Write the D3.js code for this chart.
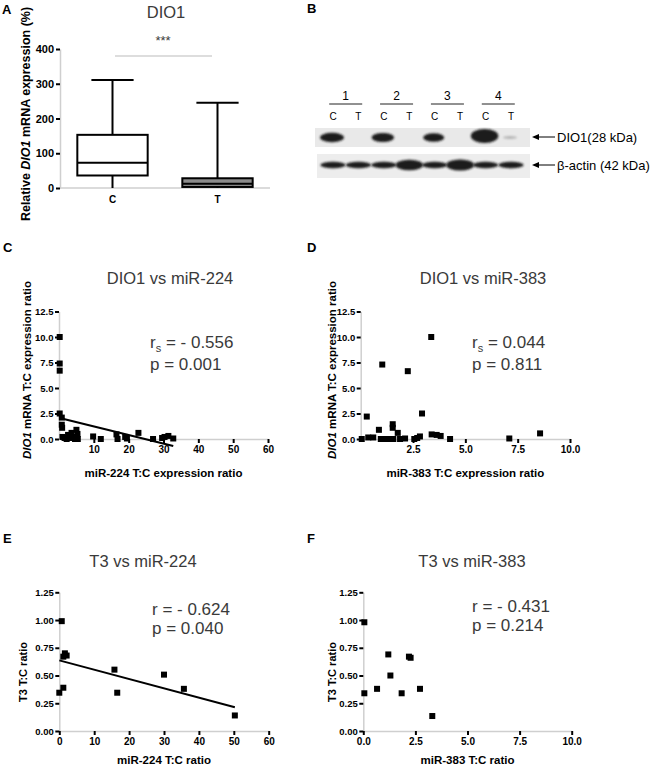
<!DOCTYPE html>
<html>
<head>
<meta charset="utf-8">
<script src="https://cdn.jsdelivr.net/npm/d3@7"></script>
<style>
  body { margin: 0; background: #fff; }
  text { font-family: Arial, "Liberation Sans", sans-serif; }
</style>
</head>
<body>
<svg id="fig" width="661" height="766"></svg>
<script>
// ---- panel A : DIO1 box plot ----
const boxGroups = ['C', 'T'];
const boxMin = [0, 0];
const boxQ1 = [36, 3];
const boxMedian = [73, 12];
const boxQ3 = [153, 28];
const boxMax = [311, 245];
const boxTicks = [0, 100, 200, 300, 400];

// ---- panel B : western blot ----
const laneNumbers = ['1', '2', '3', '4'];
const laneLabels = ['C', 'T', 'C', 'T', 'C', 'T', 'C', 'T'];
const dio1Intensity = [1.0, 0, 0.85, 0, 0.7, 0, 1.35, 0.08];
const actinIntensity = [1, 1, 1, 1.8, 1, 1.9, 1, 1];

// ---- panel C : DIO1 vs miR-224 ----
const miR224C = [0.2, 0.2, 0.2, 0.2, 0.8, 0.8, 0.9, 1.0, 1.6, 2.2, 2.6, 3.0, 3.6, 4.0, 4.6, 5.0, 5.3, 5.4,
  9.8, 12.0, 16.5, 16.8, 19.0, 19.5, 22.8, 27.0, 29.6, 30.3, 31.4, 32.8];
const dio1C = [10.0, 7.4, 6.7, 2.5, 2.1, 1.4, 1.1, 0.2, 0.1, 0.0, 0.4, 0.1, 0.6, 0.2, 0.0, 0.9, 0.5, 0.0,
  0.25, 0.0, 0.45, 0.0, 0.2, 0.05, 0.6, 0.0, 0.1, 0.2, 0.3, 0.05];

// ---- panel D : DIO1 vs miR-383 ----
const miR383D = [0.05, 0.29, 0.36, 0.6, 0.87, 0.96, 1.03, 1.08, 1.32, 1.53, 1.53, 1.56, 1.77, 1.88, 2.12, 2.25,
  2.56, 2.7, 2.83, 2.93, 3.37, 3.39, 3.63, 3.82, 4.27, 7.1, 8.57];
const dio1D = [0.0, 2.2, 0.15, 0.15, 0.9, 0.0, 7.3, 0.0, 0.0, 1.45, 1.1, 0.0, 0.6, 0.0, 0.05, 6.65,
  0.0, 0.1, 0.25, 2.5, 10.0, 0.45, 0.4, 0.3, 0.0, 0.05, 0.55];

// ---- panel E : T3 vs miR-224 ----
const miR224E = [0.7, 0, 1.15, 1.15, 1.6, 2.1, 15.8, 16.6, 30.0, 35.7, 50.3];
const t3E = [0.99, 0.345, 0.39, 0.67, 0.70, 0.68, 0.553, 0.345, 0.508, 0.38, 0.14];

// ---- panel F : T3 vs miR-383 ----
const miR383F = [0.05, 0.05, 0.66, 1.2, 1.3, 1.84, 2.19, 2.27, 2.72, 3.31];
const t3F = [0.98, 0.34, 0.38, 0.69, 0.50, 0.34, 0.67, 0.66, 0.38, 0.135];

const ticks60 = [10, 20, 30, 40, 50, 60];
const ticks60z = [0, 10, 20, 30, 40, 50, 60];
const ticks10 = [2.5, 5, 7.5, 10];
const ticks10z = [0, 2.5, 5, 7.5, 10];
const ticksDio = [0, 2.5, 5, 7.5, 10, 12.5];
const ticksT3 = [0, 0.25, 0.5, 0.75, 1, 1.25];

const svg = d3.select('#fig');
const AXIS_GREY = '#cfcfcf';
const TITLE_COL = '#3a3a3a';

function panelLetter(x, y, s) {
  svg.append('text').attr('x', x).attr('y', y)
    .attr('font-family', '"Liberation Serif", "Times New Roman", serif')
    .attr('font-weight', 'bold').attr('font-size', 13).text(s);
}

function styleAxis(ax, fs) {
  ax.attr('font-family', 'Arial, "Liberation Sans", sans-serif');
  ax.select('.domain').attr('stroke', AXIS_GREY).attr('stroke-width', 1.5);
  ax.selectAll('.tick line').attr('stroke', '#000').attr('stroke-width', 2);
  ax.selectAll('.tick text').attr('font-size', fs || 9.5).attr('font-weight', 'bold').attr('fill', '#000');
}

function yLabel(x, y, parts, fs) {
  const t = svg.append('text')
    .attr('transform', `translate(${x},${y}) rotate(-90)`)
    .attr('text-anchor', 'middle').attr('dy', '0.35em')
    .attr('font-size', fs).attr('font-weight', 'bold');
  parts.forEach(p => t.append('tspan').attr('font-style', p[1] ? 'italic' : 'normal').text(p[0]));
}

// ================= panel A =================
panelLetter(2, 14, 'A');
(function () {
  const x = d3.scaleBand().domain(boxGroups).range([60, 270]).paddingInner(0.33).paddingOuter(0.165);
  const y = d3.scaleLinear().domain([0, 400]).range([188, 49]);
  const g = svg.append('g');

  const ya = g.append('g').attr('transform', 'translate(60,0)')
    .call(d3.axisLeft(y).tickValues(boxTicks).tickSize(4).tickSizeOuter(0).tickPadding(2));
  styleAxis(ya, 11);
  g.append('line').attr('x1', 60).attr('x2', 270).attr('y1', y(0)).attr('y2', y(0))
    .attr('stroke', AXIS_GREY).attr('stroke-width', 1.5);
  boxGroups.forEach(c => g.append('text').attr('x', x(c) + x.bandwidth() / 2).attr('y', 203)
    .attr('text-anchor', 'middle').attr('font-size', 10).attr('font-weight', 'bold').text(c));

  const boxes = g.selectAll('g.box').data(boxGroups).enter().append('g').attr('class', 'box');
  boxes.each(function (c, i) {
    const b = d3.select(this);
    const cx = x(c) + x.bandwidth() / 2;
    const capW = x.bandwidth() * 0.6;
    b.append('line').attr('x1', cx).attr('x2', cx).attr('y1', y(boxMax[i])).attr('y2', y(boxMin[i]))
      .attr('stroke', '#000').attr('stroke-width', 2);
    b.append('line').attr('x1', cx - capW / 2).attr('x2', cx + capW / 2)
      .attr('y1', y(boxMax[i])).attr('y2', y(boxMax[i])).attr('stroke', '#000').attr('stroke-width', 2);
    b.append('rect').attr('x', x(c)).attr('width', x.bandwidth())
      .attr('y', y(boxQ3[i])).attr('height', y(boxQ1[i]) - y(boxQ3[i]))
      .attr('fill', i === 0 ? '#fff' : '#8c8c8c').attr('stroke', '#000').attr('stroke-width', 2);
    b.append('line').attr('x1', x(c)).attr('x2', x(c) + x.bandwidth())
      .attr('y1', y(boxMedian[i])).attr('y2', y(boxMedian[i])).attr('stroke', '#000').attr('stroke-width', 2);
  });

  g.append('text').attr('x', 166).attr('y', 18).attr('text-anchor', 'middle')
    .attr('font-size', 16.5).attr('fill', TITLE_COL).text('DIO1');
  g.append('line').attr('x1', 115).attr('x2', 212).attr('y1', 56).attr('y2', 56)
    .attr('stroke', '#bbb').attr('stroke-width', 1);
  g.append('text').attr('x', 163).attr('y', 45).attr('text-anchor', 'middle')
    .attr('font-size', 13).attr('fill', TITLE_COL).text('***');
  yLabel(26, 114, [['Relative ', false], ['DIO1', true], [' mRNA expression (%)', false]], 12.5);
})();

// ================= panel B =================
panelLetter(307, 13, 'B');
(function () {
  const g = svg.append('g');
  const defs = svg.append('defs');
  defs.append('filter').attr('id', 'blur').attr('x', '-30%').attr('y', '-60%').attr('width', '160%').attr('height', '220%')
    .append('feGaussianBlur').attr('stdDeviation', 1.1);
  const lane = d3.scalePoint().domain(d3.range(laneLabels.length)).range([333, 511]);

  laneNumbers.forEach((n, k) => {
    const cx = (lane(2 * k) + lane(2 * k + 1)) / 2;
    g.append('text').attr('x', cx).attr('y', 100).attr('text-anchor', 'middle').attr('font-size', 12).text(n);
    g.append('line').attr('x1', cx - 16.5).attr('x2', cx + 16.5).attr('y1', 104).attr('y2', 104)
      .attr('stroke', '#222').attr('stroke-width', 1);
  });
  laneLabels.forEach((l, i) => g.append('text').attr('x', lane(i)).attr('y', 120)
    .attr('text-anchor', 'middle').attr('font-size', 10).text(l));

  // membrane strips
  g.append('rect').attr('x', 315).attr('y', 128).attr('width', 215).attr('height', 19).attr('fill', '#e9e9e9');
  g.append('rect').attr('x', 317).attr('y', 154).attr('width', 213).attr('height', 24).attr('fill', '#ededed');

  dio1Intensity.forEach((d, i) => {
    if (d <= 0) return;
    g.append('ellipse').attr('cx', lane(i) - 1).attr('cy', d > 1.2 ? 136 : 137.5)
      .attr('rx', d < 0.2 ? 7 : 7 + 5 * d)
      .attr('ry', d < 0.2 ? 1.5 : (d > 1.2 ? 7 : 3.2 + 1.5 * d))
      .attr('fill', d < 0.2 ? '#b5b5b5' : '#1b1b1b').attr('filter', 'url(#blur)');
  });
  actinIntensity.forEach((d, i) => {
    g.append('ellipse').attr('cx', lane(i)).attr('cy', 165)
      .attr('rx', 11 + 1.5 * d).attr('ry', 2.6 * d + 0.6)
      .attr('fill', '#1b1b1b').attr('filter', 'url(#blur)');
  });

  function arrow(y, label) {
    g.append('line').attr('x1', 536).attr('x2', 555).attr('y1', y).attr('y2', y).attr('stroke', '#000').attr('stroke-width', 1);
    g.append('path').attr('d', `M532,${y} l7,-3 l0,6 z`).attr('fill', '#000');
    g.append('text').attr('x', 557).attr('y', y + 5).attr('font-size', 13).text(label);
  }
  arrow(137, 'DIO1(28 kDa)');
  arrow(165, 'β-actin (42 kDa)');
})();

// ================= scatter panels =================
function linFit(xs, ys) {
  const mx = d3.mean(xs), my = d3.mean(ys);
  const sxy = d3.sum(xs, (v, i) => (v - mx) * (ys[i] - my));
  const sxx = d3.sum(xs, v => (v - mx) * (v - mx));
  const slope = sxy / sxx;
  return { slope, intercept: my - slope * mx };
}

function scatter(o) {
  const g = svg.append('g');
  const x = d3.scaleLinear().domain(o.xDomain).range(o.xRange);
  const y = d3.scaleLinear().domain(o.yDomain).range(o.yRange);

  const ya = g.append('g').attr('transform', `translate(${o.xRange[0]},0)`)
    .call(d3.axisLeft(y).tickValues(o.yTicks).tickFormat(d3.format(o.yFmt))
      .tickSize(4).tickSizeOuter(0).tickPadding(1.5));
  styleAxis(ya);
  const xa = g.append('g').attr('transform', `translate(0,${o.yRange[0]})`)
    .call(d3.axisBottom(x).tickValues(o.xTicks).tickFormat(d3.format(o.xFmt))
      .tickSize(4).tickSizeOuter(0).tickPadding(3));
  styleAxis(xa, 10);

  if (o.fit) {
    const f = linFit(o.xs, o.ys);
    const x0 = d3.min(o.xs), x1 = d3.max(o.xs);
    g.append('line').attr('x1', x(x0)).attr('x2', x(x1))
      .attr('y1', y(f.intercept + f.slope * x0)).attr('y2', y(f.intercept + f.slope * x1))
      .attr('stroke', '#000').attr('stroke-width', 2);
  }

  g.selectAll('rect.pt').data(o.xs).enter().append('rect').attr('class', 'pt')
    .attr('x', (d) => x(d) - 3).attr('y', (d, i) => y(o.ys[i]) - 3)
    .attr('width', 6).attr('height', 6).attr('fill', '#000');

  const cx = (o.xRange[0] + o.xRange[1]) / 2;
  g.append('text').attr('x', o.titleX).attr('y', o.titleY).attr('text-anchor', 'middle')
    .attr('font-size', 16.5).attr('fill', TITLE_COL).text(o.title);
  g.append('text').attr('x', cx).attr('y', o.xLabelY).attr('text-anchor', 'middle')
    .attr('font-size', 11.5).attr('font-weight', 'bold').text(o.xLabel);
  yLabel(o.yLabelX, o.yLabelY, o.yLabel, o.yLabelSize);

  const r = g.append('text').attr('x', o.statX).attr('y', o.statY[0]).attr('font-size', 17).attr('fill', TITLE_COL);
  r.append('tspan').text('r');
  if (o.spearman) {
    r.append('tspan').attr('font-size', 11).attr('dy', 4).text('s');
    r.append('tspan').attr('dy', -4).text(' = ' + o.rText);
  } else {
    r.append('tspan').text(' = ' + o.rText);
  }
  g.append('text').attr('x', o.statX).attr('y', o.statY[1]).attr('font-size', 17).attr('fill', TITLE_COL)
    .text('p = ' + o.pText);
}

panelLetter(3, 252, 'C');
scatter({
  xs: miR224C, ys: dio1C, xDomain: [0, 60], xRange: [59, 268], yDomain: [0, 12.5], yRange: [439, 311.5],
  xTicks: ticks60, xFmt: 'd', yTicks: ticksDio, yFmt: '.1f', fit: true,
  title: 'DIO1 vs miR-224', titleX: 170, titleY: 284,
  xLabel: 'miR-224 T:C expression ratio', xLabelY: 477,
  yLabel: [['DIO1', true], [' mRNA T:C expression ratio', false]], yLabelX: 27, yLabelY: 370, yLabelSize: 11.5,
  spearman: true, rText: '- 0.556', pText: '0.001', statX: 150, statY: [348, 370]
});

panelLetter(307, 252, 'D');
scatter({
  xs: miR383D, ys: dio1D, xDomain: [0, 10], xRange: [360.7, 570], yDomain: [0, 12.5], yRange: [439, 311.5],
  xTicks: ticks10, xFmt: '.1f', yTicks: ticksDio, yFmt: '.1f', fit: false,
  title: 'DIO1 vs miR-383', titleX: 483, titleY: 284,
  xLabel: 'miR-383 T:C expression ratio', xLabelY: 477,
  yLabel: [['DIO1', true], [' mRNA T:C expression ratio', false]], yLabelX: 332, yLabelY: 370, yLabelSize: 11.5,
  spearman: true, rText: '0.044', pText: '0.811', statX: 472, statY: [348, 370]
});

panelLetter(3, 543, 'E');
scatter({
  xs: miR224E, ys: t3E, xDomain: [0, 60], xRange: [59.3, 268.7], yDomain: [0, 1.25], yRange: [731, 592.3],
  xTicks: ticks60z, xFmt: 'd', yTicks: ticksT3, yFmt: '.2f', fit: true,
  title: 'T3 vs miR-224', titleX: 143, titleY: 567,
  xLabel: 'miR-224 T:C ratio', xLabelY: 764,
  yLabel: [['T3 T:C ratio', false]], yLabelX: 23, yLabelY: 672, yLabelSize: 11,
  spearman: false, rText: '- 0.624', pText: '0.040', statX: 152, statY: [615, 634]
});

panelLetter(307, 543, 'F');
scatter({
  xs: miR383F, ys: t3F, xDomain: [0, 10], xRange: [363.3, 571.7], yDomain: [0, 1.25], yRange: [731, 592.3],
  xTicks: ticks10z, xFmt: '.1f', yTicks: ticksT3, yFmt: '.2f', fit: false,
  title: 'T3 vs miR-383', titleX: 472, titleY: 567,
  xLabel: 'miR-383 T:C ratio', xLabelY: 764,
  yLabel: [['T3 T:C ratio', false]], yLabelX: 332, yLabelY: 672, yLabelSize: 11,
  spearman: false, rText: '- 0.431', pText: '0.214', statX: 472, statY: [612, 631]
});
</script>
</body>
</html>
